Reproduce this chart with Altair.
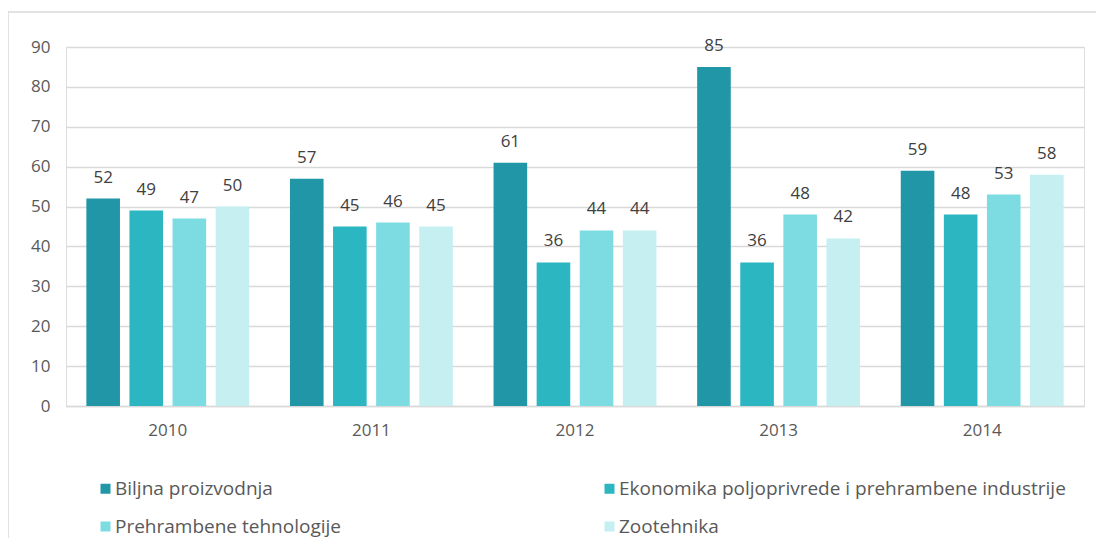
import altair as alt
import pandas as pd

years = ["2010", "2011", "2012", "2013", "2014"]
series = ["Biljna proizvodnja",
          "Ekonomika poljoprivrede i prehrambene industrije",
          "Prehrambene tehnologije",
          "Zootehnika"]
values = {
    "Biljna proizvodnja": [52, 57, 61, 85, 59],
    "Ekonomika poljoprivrede i prehrambene industrije": [49, 45, 36, 36, 48],
    "Prehrambene tehnologije": [47, 46, 44, 48, 53],
    "Zootehnika": [50, 45, 44, 42, 58],
}
colors = {
    "Biljna proizvodnja": "#2196a6",
    "Ekonomika poljoprivrede i prehrambene industrije": "#2bb6c1",
    "Prehrambene tehnologije": "#7ddce2",
    "Zootehnika": "#c6eff1",
}
# legend fills column-wise, so order entries to read row-wise like the original
legend_order = [series[0], series[2], series[1], series[3]]
y_ticks = [0, 10, 20, 30, 40, 50, 60, 70, 80, 90]

rows = []
for s in series:
    for y, v in zip(years, values[s]):
        rows.append({"year": y, "series": s, "value": v})
df = pd.DataFrame(rows)

W, H = 1018, 359
FONT = "Open Sans"

x = alt.X("year:N", title=None, sort=years,
          scale=alt.Scale(paddingInner=0.2, paddingOuter=0.1),
          axis=alt.Axis(labelAngle=0, labelFontSize=17, labelColor="#595959",
                        labelPadding=16, ticks=False, domainColor="#d9d9d9",
                        domainWidth=1.5, grid=False, labelFont=FONT))
xo = alt.XOffset("series:N", sort=series,
                 scale=alt.Scale(paddingInner=0.22, paddingOuter=0))
y = alt.Y("value:Q", title=None,
          scale=alt.Scale(domain=[0, 90], nice=False),
          axis=alt.Axis(values=y_ticks, labelFontSize=17, labelColor="#595959",
                        labelPadding=16, ticks=False, domain=False,
                        gridColor="#d9d9d9", gridWidth=1.5, labelFont=FONT))

color = alt.Color("series:N",
                  scale=alt.Scale(domain=legend_order,
                                  range=[colors[s] for s in legend_order]),
                  legend=alt.Legend(title=None, orient="none", legendX=30, legendY=432,
                                    columns=2, symbolType="square", symbolSize=100,
                                    symbolStrokeWidth=0, labelFontSize=19,
                                    labelColor="#595959", labelFont=FONT,
                                    labelOffset=0, rowPadding=18, columnPadding=259,
                                    labelLimit=600))

base = alt.Chart(df)
bars = base.mark_bar().encode(x=x, xOffset=xo, y=y, color=color)
labels = base.mark_text(baseline="alphabetic", dy=-16, fontSize=17,
                        color="#404040", font=FONT).encode(
    x=x, xOffset=xo, y=y, text=alt.Text("value:Q"))

border_df = pd.DataFrame({"k": [0]})
left_line = alt.Chart(border_df).mark_rule(color="#d9d9d9", strokeWidth=1.5).encode(
    x=alt.value(-58), y=alt.value(-35), y2=alt.value(H + 140))
top_line = alt.Chart(border_df).mark_rule(color="#d9d9d9", strokeWidth=1.5).encode(
    x=alt.value(-58), x2=alt.value(W + 30), y=alt.value(-35))

chart = alt.layer(bars, labels, left_line, top_line).properties(
    width=W, height=H,
    autosize=alt.AutoSizeParams(type="none"),
    padding={"left": 58, "top": 39, "right": 12, "bottom": 132},
).configure_view(stroke=None).configure(font=FONT)

chart.save("out.html", embed_options={"renderer": "svg", "actions": False})
